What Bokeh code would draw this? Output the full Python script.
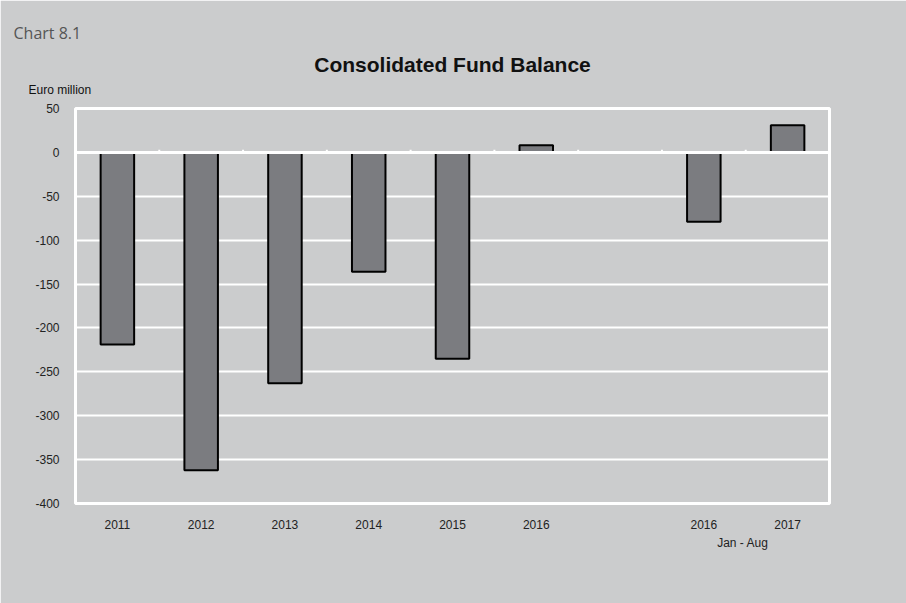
from bokeh.plotting import figure
from bokeh.models import FixedTicker, Span, Title
from bokeh.embed import file_html
from bokeh.resources import INLINE

# Data
categories = ["2011", "2012", "2013", "2014", "2015", "2016", "", "2016", "2017"]
balances = [-219, -362, -263, -136, -235, 8, None, -79, 31]
y_ticks = [-400, -350, -300, -250, -200, -150, -100, -50, 0, 50]

BG = "#cbcccd"
BAR = "#7b7c80"

p = figure(width=906, height=603, x_range=(0, len(categories)), y_range=(-400, 50),
           output_backend="svg", toolbar_location=None,
           min_border_left=75, min_border_right=77, min_border_top=108, min_border_bottom=100)
p.background_fill_color = BG
p.border_fill_color = BG
p.outline_line_color = "white"
p.outline_line_width = 3

xs = [i + 0.5 for i, v in enumerate(balances) if v is not None]
tops = [max(v, 0) for v in balances if v is not None]
bottoms = [min(v, 0) for v in balances if v is not None]
p.vbar(x=xs, top=tops, bottom=bottoms, width=0.4, fill_color=BAR,
       line_color="black", line_width=2)

# zero line and small white tick marks at category boundaries
p.add_layout(Span(location=0, dimension="width", line_color="white", line_width=3))
bounds = list(range(1, len(categories)))
p.segment(x0=bounds, x1=bounds, y0=[0] * len(bounds), y1=[3] * len(bounds),
          line_color="white", line_width=2)

# axes
p.xgrid.visible = False
p.ygrid.grid_line_color = "white"
p.ygrid.grid_line_width = 2
p.yaxis.ticker = FixedTicker(ticks=y_ticks)
p.yaxis.major_label_overrides = {t: str(t) for t in y_ticks}
p.xaxis.ticker = FixedTicker(ticks=[i + 0.5 for i in range(len(categories))])
p.xaxis.major_label_overrides = {i + 0.5: c for i, c in enumerate(categories)}
for ax in (p.xaxis, p.yaxis):
    ax.axis_line_color = None
    ax.major_tick_line_color = None
    ax.minor_tick_line_color = None
    ax.major_label_text_font = "Liberation Sans"
    ax.major_label_text_font_size = "12px"
    ax.major_label_text_color = "#222222"
p.yaxis.major_label_standoff = 10
p.xaxis.major_label_standoff = 10

# texts as titles (nearest the frame first)
p.add_layout(Title(text="Euro million", align="left", offset=-47, standoff=24,
                   text_font="Liberation Sans", text_font_style="normal",
                   text_font_size="12px", text_color="#111111"), "above")
main_title = Title(text="Consolidated Fund Balance", align="center", standoff=0,
                   text_font="Liberation Sans", text_font_style="bold",
                   text_font_size="21px", text_color="#111111")
try:
    main_title.standoff = -14
except Exception:
    main_title.standoff = 0
p.add_layout(main_title, "above")
p.add_layout(Title(text="Chart 8.1", align="left", offset=-62, standoff=28,
                   text_font="Open Sans", text_font_style="normal",
                   text_font_size="16px", text_color="#555555"), "above")
p.add_layout(Title(text="Jan - Aug", align="right", offset=61, standoff=4,
                   text_font="Liberation Sans", text_font_style="normal",
                   text_font_size="12px", text_color="#222222"), "below")

html = file_html(p, INLINE)
html = html.replace("<body", '<body style="margin:0;background:#cbcccd"', 1)
open("out.html", "w").write(html)
